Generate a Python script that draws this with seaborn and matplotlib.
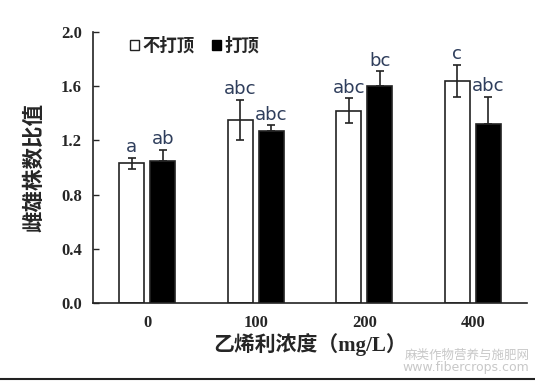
import matplotlib
matplotlib.use('Agg')
import matplotlib.pyplot as plt
import seaborn as sns
import pandas as pd
import numpy as np
from matplotlib.patches import Patch

# 数据
concentrations = ['0', '100', '200', '400']
groups = ['不打顶', '打顶']
ratio_no_top = [1.03, 1.35, 1.42, 1.64]
ratio_top = [1.05, 1.27, 1.60, 1.32]
err_no_top = [0.04, 0.15, 0.09, 0.12]
err_top = [0.08, 0.04, 0.11, 0.20]
letters_no_top = ['a', 'abc', 'abc', 'c']
letters_top = ['ab', 'abc', 'bc', 'abc']

sns.set_style('white')
plt.rcParams['font.family'] = ['Noto Sans CJK SC', 'DejaVu Sans']

df = pd.DataFrame({
    'conc': concentrations * 2,
    'group': [groups[0]] * 4 + [groups[1]] * 4,
    'value': ratio_no_top + ratio_top,
})

fig = plt.figure(figsize=(5.35, 3.81), dpi=100)
ax = fig.add_axes([0.174, 0.205, 0.811, 0.711])

sns.barplot(data=df, x='conc', y='value', hue='group', order=concentrations,
            hue_order=groups, palette=['white', 'black'], width=0.57, gap=0.19,
            errorbar=None, edgecolor='#222222', linewidth=1.2, legend=False, ax=ax)

# 误差线和字母（黑色柱子只看得到上半部分）
patches = ax.patches[:8]
vals = ratio_no_top + ratio_top
errs = err_no_top + err_top
labs = letters_no_top + letters_top
for i, (p, v, e, l) in enumerate(zip(patches, vals, errs, labs)):
    xc = p.get_x() + p.get_width() / 2
    yerr = e if i < 4 else [[0], [e]]
    ax.errorbar(xc, v, yerr=yerr, fmt='none', ecolor='#222222', elinewidth=1.2,
                capsize=3, capthick=1.2)
    ax.text(xc, v + e + 0.012, l, ha='center', va='bottom', fontsize=13,
            color='#2F3E5C', family='DejaVu Sans')

ax.set_xlim(-0.5, 3.5)
ax.set_ylim(0, 2.0)
ax.set_yticks(np.arange(0, 2.01, 0.4))
ax.set_yticklabels([f'{t:.1f}' for t in np.arange(0, 2.01, 0.4)],
                   family='Liberation Serif', fontweight='bold', fontsize=12)
ax.set_xticks(range(4))
ax.set_xticklabels(concentrations, family='Liberation Serif', fontweight='bold',
                   fontsize=12)
ax.tick_params(axis='y', direction='in', length=4, width=1, left=True, pad=8)
ax.tick_params(axis='x', length=0, pad=9)

for s in ['top', 'right']:
    ax.spines[s].set_visible(False)
for s in ['left', 'bottom']:
    ax.spines[s].set_color('#222222')
    ax.spines[s].set_linewidth(1.2)

ax.set_ylabel('雌雄株数比值', fontsize=15.5, fontweight='bold', labelpad=12)
ax.set_xlabel('乙烯利浓度（mg/L）', fontsize=15, fontweight='bold', labelpad=1,
              family=['Liberation Serif', 'Noto Sans CJK SC'])

handles = [Patch(facecolor='white', edgecolor='#222222', linewidth=1),
           Patch(facecolor='black', edgecolor='black')]
ax.legend(handles, groups, loc='upper left', bbox_to_anchor=(0.05, 1.04), ncol=2,
          frameon=False, handlelength=0.5, handleheight=0.5, handletextpad=0.2,
          columnspacing=1.0, prop={'family': 'Noto Sans CJK SC', 'weight': 'bold',
                                   'size': 12.5})

# 水印
fig.text(0.99, 0.068, '麻类作物营养与施肥网', ha='right', va='center',
         fontsize=9, color='#c8c8c8')
fig.text(0.99, 0.036, 'www.fibercrops.com', ha='right', va='center',
         fontsize=9, color='#c8c8c8', family='DejaVu Sans')
fig.add_artist(plt.Line2D([0, 1], [0.004, 0.004], color='#222222', linewidth=1.5))

fig.savefig('out.png', dpi=100)
